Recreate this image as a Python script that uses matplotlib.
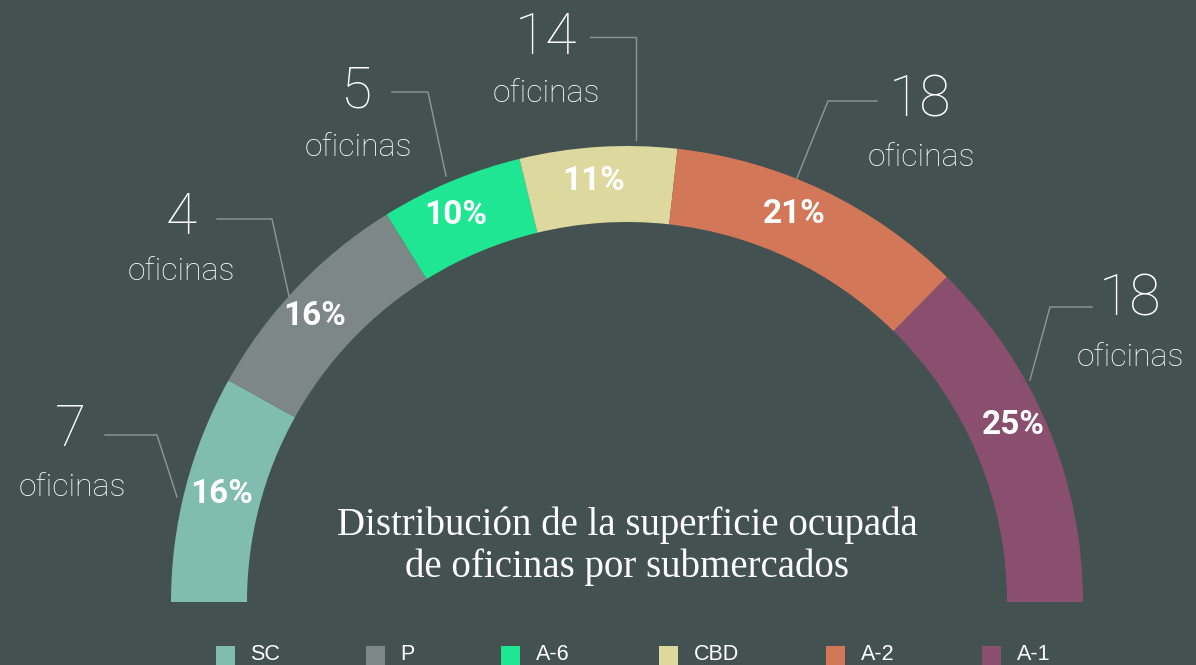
import matplotlib.pyplot as plt

# datos
submercados = ["SC", "P", "A-6", "CBD", "A-2", "A-1"]
porcentajes = [16, 16, 10, 11, 21, 25]
oficinas = [7, 4, 5, 14, 18, 18]
colores = ["#80bdb0", "#7d8787", "#1ee692", "#dcd89e", "#d27859", "#8a4f6f"]

fondo = "#435151"
W, H = 1196, 665

fig = plt.figure(figsize=(W / 100, H / 100), dpi=100, facecolor=fondo)
ax = fig.add_axes([0, 0, 1, 1])
ax.set_facecolor(fondo)

cx, cy = 627, H - 602
R, ancho = 456, 76
total = sum(porcentajes)

# medio donut: se agrega una cuña invisible igual al total
wedges, _ = ax.pie(porcentajes + [total], colors=colores + ["none"],
                   startangle=180, counterclock=False, radius=R,
                   center=(cx, cy), wedgeprops=dict(width=ancho, linewidth=0))
ax.set_xlim(0, W)
ax.set_ylim(0, H)
ax.set_aspect("equal")
ax.axis("off")

# etiquetas de porcentaje (en el centro del anillo)
pos_pct = [(222, 494), (315, 316), (456, 215), (594, 181), (794, 214), (1013, 425)]
for p, (x, y) in zip(porcentajes, pos_pct):
    ax.text(x, H - y, f"{p}%", color="white", fontsize=24, fontweight="bold",
            ha="center", va="center", family="Roboto")

# etiquetas de oficinas con líneas guía
pos_num = [(70, 430), (181, 218), (357, 92), (546, 38), (920, 101), (1130, 300)]
pos_ofi = [(72, 488), (181, 272), (358, 147), (546, 93), (921, 158), (1130, 357)]
lineas = [
    [(105, 435), (157, 435), (177, 497)],
    [(217, 219), (272, 219), (289, 296)],
    [(392, 92), (428, 92), (446, 176)],
    [(590, 37), (636, 37), (636, 140)],
    [(877, 101), (828, 101), (797, 178)],
    [(1092, 307), (1050, 307), (1030, 380)],
]
for n, (x, y), (x2, y2), ln in zip(oficinas, pos_num, pos_ofi, lineas):
    ax.text(x, H - y, str(n), color="white", fontsize=41, fontweight="light",
            ha="center", va="center", family="Roboto")
    ax.text(x2, H - y2, "oficinas", color="white", fontsize=23, fontweight="light",
            ha="center", va="center", family="Roboto")
    ax.plot([p[0] for p in ln], [H - p[1] for p in ln], color="#8e9898", lw=1)

# título
ax.text(627, H - 546, "Distribución de la superficie ocupada\nde oficinas por submercados",
        color="white", fontsize=28, ha="center", va="center",
        family="Liberation Serif", linespacing=1.17)

# leyenda
leg_x = [224.5, 374.5, 509.5, 667.5, 834.5, 990.5]
for nombre, c, x in zip(submercados, colores, leg_x):
    ax.scatter([x], [H - 655], marker="s", s=(19 * 0.72) ** 2, color=c, linewidths=0)
    ax.text(x + 26, H - 655, nombre, color="white", fontsize=15.5,
            ha="left", va="center", family="Liberation Sans")

plt.savefig("out.png", dpi=100, facecolor=fondo)
